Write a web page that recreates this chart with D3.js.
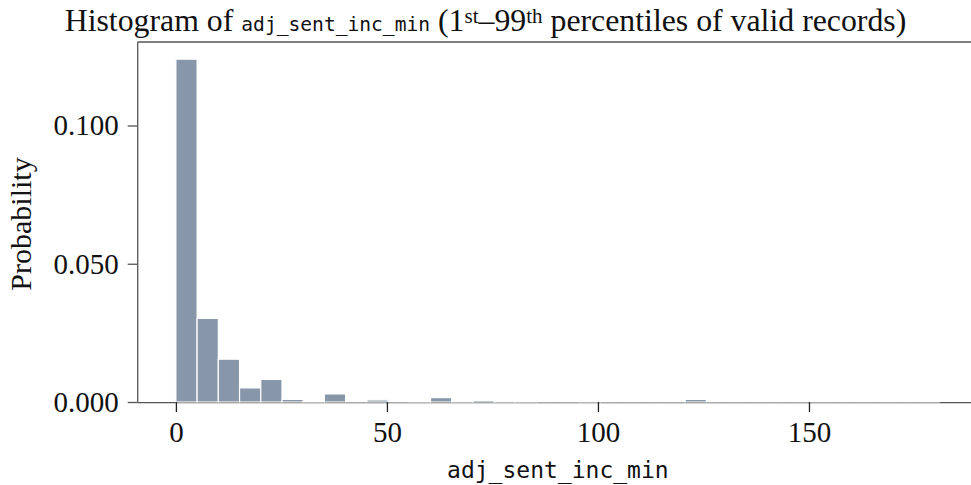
<!DOCTYPE html>
<html><head><meta charset="utf-8">
<script src="https://cdn.jsdelivr.net/npm/d3@7/dist/d3.min.js"></script>
<style>body{margin:0;background:#fff}svg{display:block}</style>
</head><body>
<svg id="chart" width="971" height="485"></svg>
<script>
// ---- data ----
const binMin = 0, binMax = 181, binCount = 36;
const density = [0.1240, 0.0302, 0.0155, 0.0051, 0.0082, 0.0009, 0.0003, 0.0029, 0, 0.0008,
                 0, 0.0002, 0.0016, 0.0001, 0.0006, 0.00005, 0.0002, 0, 0, 0.0001,
                 0, 0, 0, 0, 0.0009, 0, 0, 0, 0, 0,
                 0, 0, 0, 0, 0, 0];
const xTicks = [0, 50, 100, 150];
const yTicks = [0, 0.05, 0.10];
const titleParts = [
  {t: "Histogram of ", f: "serif"},
  {t: "adj_sent_inc_min", f: "mono"},
  {t: " (1", f: "serif"},
  {t: "st", f: "sup"},
  {t: "\u201399", f: "serif"},
  {t: "th", f: "sup"},
  {t: " percentiles of valid records)", f: "serif"}
];
const xLabel = "adj_sent_inc_min";
const yLabel = "Probability";

// ---- layout ----
const W = 971, H = 485;
const plot = {left: 137.7, top: 42, bottom: 402, right: 978};
const SERIF = "'Liberation Serif', 'DejaVu Serif', serif";
const MONO = "'DejaVu Sans Mono', 'Liberation Mono', monospace";
const barColor = "#8796a8";

const svg = d3.select("#chart");
const binW = (binMax - binMin) / binCount;
const bins = density.map((v, i) => ({x0: binMin + i * binW, x1: binMin + (i + 1) * binW, v}));

const pad = (binMax - binMin) * 0.05;
const x = d3.scaleLinear().domain([binMin - pad, binMax + pad]).range([plot.left, plot.right]);
const y = d3.scaleLinear().domain([0, d3.max(density) * 1.05]).range([plot.bottom, plot.top]);

// spines
const spine = "#555";
svg.append("line").attr("x1", plot.left).attr("x2", plot.right).attr("y1", plot.top).attr("y2", plot.top)
  .attr("stroke", spine).attr("stroke-width", 1.3);
svg.append("line").attr("x1", plot.left).attr("x2", plot.left).attr("y1", plot.top).attr("y2", plot.bottom)
  .attr("stroke", spine).attr("stroke-width", 1.3);
svg.append("line").attr("x1", plot.left).attr("x2", plot.right).attr("y1", plot.bottom + 0.6).attr("y2", plot.bottom + 0.6)
  .attr("stroke", spine).attr("stroke-width", 1.4);

// bars
svg.append("g").selectAll("path").data(bins).join("path")
  .attr("d", d => {
    const a = x(d.x0), b = x(d.x1), t = y(d.v), z = y(0);
    return `M${a},${z}L${a},${t}L${b},${t}L${b},${z}Z`;
  })
  .attr("fill", barColor).attr("stroke", "#fff").attr("stroke-width", 1.2);

// x axis ticks
const xAxis = d3.axisBottom(x).tickValues(xTicks).tickSize(10).tickPadding(9).tickFormat(d3.format("d"));
const gx = svg.append("g").attr("transform", `translate(0,${plot.bottom})`).call(xAxis);
gx.select(".domain").remove();
gx.selectAll(".tick line").attr("stroke", "#222").attr("stroke-width", 1.3);
gx.selectAll(".tick text").attr("font-family", SERIF).attr("font-size", 29).attr("fill", "#111");

// y axis ticks
const yAxis = d3.axisLeft(y).tickValues(yTicks).tickSize(10).tickPadding(9).tickFormat(d3.format(".3f"));
const gy = svg.append("g").attr("transform", `translate(${plot.left},0)`).call(yAxis);
gy.select(".domain").remove();
gy.selectAll(".tick line").attr("stroke", "#555").attr("stroke-width", 1.3);
gy.selectAll(".tick text").attr("font-family", SERIF).attr("font-size", 29).attr("fill", "#111");

// axis labels
svg.append("text").attr("x", (plot.left + plot.right) / 2).attr("y", 478)
  .attr("text-anchor", "middle").attr("font-family", MONO).attr("font-size", 23).attr("fill", "#111")
  .text(xLabel);
svg.append("text").attr("transform", `translate(31,${(plot.top + plot.bottom) / 2 + 2}) rotate(-90)`)
  .attr("text-anchor", "middle").attr("font-family", SERIF).attr("font-size", 30).attr("fill", "#111")
  .text(yLabel);

// title
const title = svg.append("text").attr("x", W / 2).attr("y", 31).attr("text-anchor", "middle")
  .attr("fill", "#111").attr("font-family", SERIF).attr("font-size", 31.8);
titleParts.forEach(p => {
  const ts = title.append("tspan").text(p.t);
  if (p.f === "mono") ts.attr("font-family", MONO).attr("font-size", 19.6);
  if (p.f === "sup") ts.attr("font-size", 21).attr("baseline-shift", "38%");
});
</script>
</body></html>
